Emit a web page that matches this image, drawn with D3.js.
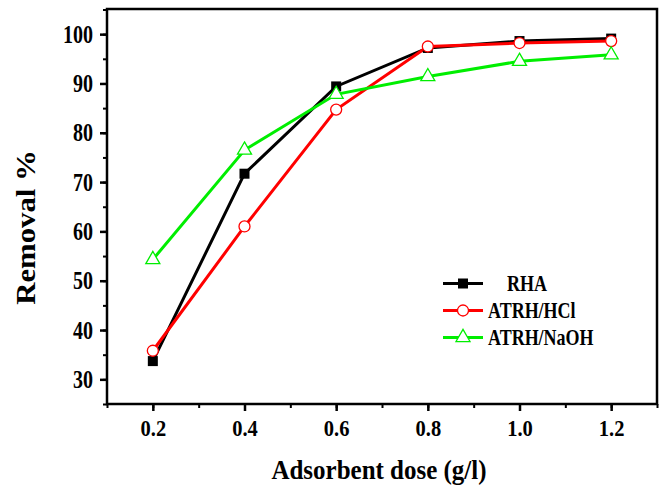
<!DOCTYPE html>
<html>
<head>
<meta charset="utf-8">
<script src="https://cdn.jsdelivr.net/npm/d3@7"></script>
<style>
  body { margin: 0; background: #fff; }
  text { font-family: "Liberation Serif", "Times New Roman", serif; font-weight: bold; }
</style>
</head>
<body>
<div id="chart"></div>
<script>
// Data
const doses = [0.2, 0.4, 0.6, 0.8, 1.0, 1.2];
const rha = [33.7, 71.7, 89.4, 97.2, 98.6, 99.1];
const hcl = [35.8, 61.0, 84.7, 97.5, 98.2, 98.6];
const naoh = [54.3, 76.5, 87.8, 91.4, 94.5, 95.8];
const xTicks = [0.2, 0.4, 0.6, 0.8, 1.0, 1.2];
const yTicks = [30, 40, 50, 60, 70, 80, 90, 100];

const seriesList = [
    { name: 'RHA', values: rha, color: '#000000', marker: 'square' },
    { name: 'ATRH/HCl', values: hcl, color: '#ff0000', marker: 'circle' },
    { name: 'ATRH/NaOH', values: naoh, color: '#00ee00', marker: 'triangle' }
];

const W = 664, H = 487;
const margin = { top: 9, right: 7, bottom: 83, left: 107 };
const width = W - margin.left - margin.right;
const height = H - margin.top - margin.bottom;

// the original text looks stretched vertically, so squash/stretch around its own box
function stretch(sel, sx, sy) {
    sel.style('transform-box', 'fill-box')
        .style('transform-origin', 'center')
        .style('transform', `scale(${sx},${sy})`);
}

const root = d3.select('#chart').append('svg')
    .attr('width', W).attr('height', H);
const svg = root.append('g')
    .attr('transform', `translate(${margin.left},${margin.top})`);

const x = d3.scaleLinear().domain([0.1, 1.3]).range([0, width]);
const y = d3.scaleLinear().domain([25, 105.1]).range([height, 0]);

// minor ticks
svg.append('g').attr('transform', `translate(0,${height})`)
    .call(d3.axisBottom(x).tickValues(d3.range(0.1, 1.31, 0.1)).tickSize(4).tickFormat(''))
    .call(g => g.select('.domain').remove())
    .selectAll('line').attr('stroke-width', 2);
svg.append('g')
    .call(d3.axisLeft(y).tickValues(d3.range(25, 106, 5)).tickSize(4).tickFormat(''))
    .call(g => g.select('.domain').remove())
    .selectAll('line').attr('stroke-width', 2);

// major ticks + labels
const xAxis = svg.append('g').attr('transform', `translate(0,${height})`)
    .call(d3.axisBottom(x).tickValues(xTicks).tickSize(7).tickPadding(10).tickFormat(d3.format('.1f')));
xAxis.select('.domain').remove();
xAxis.selectAll('line').attr('stroke-width', 2.5);
xAxis.selectAll('text').style('font-size', '20.5px').attr('fill', '#000').call(stretch, 1, 1.08);

const yAxis = svg.append('g')
    .call(d3.axisLeft(y).tickValues(yTicks).tickSize(7).tickPadding(7));
yAxis.select('.domain').remove();
yAxis.selectAll('line').attr('stroke-width', 2.5);
yAxis.selectAll('text').style('font-size', '20px').attr('fill', '#000').call(stretch, 1, 1.25);

// frame
svg.append('rect').attr('x', 0).attr('y', 0).attr('width', width).attr('height', height)
    .attr('fill', 'none').attr('stroke', '#000').attr('stroke-width', 2.5);

// lines and markers
const line = d3.line().x((d, i) => x(doses[i])).y(d => y(d));

function drawMarker(g, type, color, cx, cy) {
    if (type === 'square') {
        g.append('rect').attr('x', cx - 5).attr('y', cy - 5).attr('width', 10).attr('height', 10)
            .attr('fill', color);
    } else if (type === 'circle') {
        g.append('circle').attr('cx', cx).attr('cy', cy).attr('r', 5.5)
            .attr('fill', '#fff').attr('stroke', color).attr('stroke-width', 1.3);
    } else {
        g.append('path').attr('d', d3.symbol().type(d3.symbolTriangle).size(85)())
            .attr('transform', `translate(${cx},${cy})`)
            .attr('fill', '#fff').attr('stroke', color).attr('stroke-width', 1.3);
    }
}

seriesList.forEach(s => {
    svg.append('path').datum(s.values).attr('d', line)
        .attr('fill', 'none').attr('stroke', s.color).attr('stroke-width', 3);
});
seriesList.forEach(s => {
    const g = svg.append('g');
    s.values.forEach((v, i) => drawMarker(g, s.marker, s.color, x(doses[i]), y(v)));
});

// legend
const legend = root.append('g').attr('transform', 'translate(443,283.5)');
seriesList.forEach((s, i) => {
    const row = legend.append('g').attr('transform', `translate(0,${i * 27})`);
    row.append('line').attr('x1', 0).attr('x2', 40).attr('y1', 0).attr('y2', 0)
        .attr('stroke', s.color).attr('stroke-width', 3);
    drawMarker(row, s.marker, s.color, 20, 0);
    row.append('text').attr('x', i === 0 ? 64 : 45).attr('y', 0).attr('dy', '0.35em')
        .style('font-size', '18px').text(s.name).call(stretch, 1, 1.25);
});

// axis titles
root.append('text').attr('x', 379).attr('y', 469).attr('dy', '0.35em')
    .attr('text-anchor', 'middle').style('font-size', '25px').text('Adsorbent dose (g/l)')
    .call(stretch, 1, 1.1);
root.append('g').attr('transform', 'translate(26,227.5) rotate(-90)')
    .append('text').attr('x', 0).attr('y', 0).attr('dy', '0.35em')
    .attr('text-anchor', 'middle').style('font-size', '27px').text('Removal %')
    .call(stretch, 1.14, 1);
</script>
</body>
</html>
